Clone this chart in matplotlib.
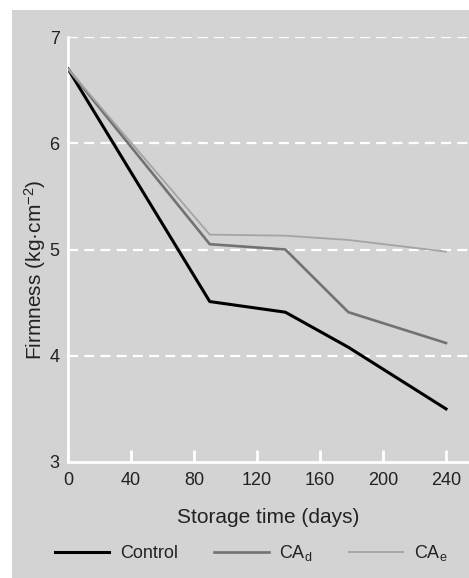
import matplotlib.pyplot as plt
from matplotlib.patches import Rectangle

plt.rcParams['font.family'] = ['Liberation Sans', 'DejaVu Sans']
plt.rcParams['mathtext.fontset'] = 'custom'
plt.rcParams['mathtext.rm'] = 'Liberation Sans'
plt.rcParams['mathtext.it'] = 'Liberation Sans'

# storage days and firmness readings
days = [0, 90, 138, 178, 240]
control = [6.70, 4.51, 4.41, 4.08, 3.50]
ca_d = [6.70, 5.05, 5.00, 4.41, 4.12]
ca_e = [6.70, 5.14, 5.13, 5.09, 4.98]

x_ticks = [0, 40, 80, 120, 160, 200, 240]
y_ticks = [3, 4, 5, 6, 7]

bg = '#d3d3d3'
txt = '#222222'

fig = plt.figure(figsize=(4.69, 5.78), dpi=100)
fig.patch.set_facecolor('white')
# grey panel behind everything
fig.patches.append(Rectangle((12 / 469, 0), 1, 1 - 10 / 578, transform=fig.transFigure,
                             facecolor=bg, edgecolor='none', zorder=-10))

ax = fig.add_axes([68 / 469, 116 / 578, 1 - 68 / 469, (462 - 37) / 578])
ax.set_facecolor(bg)

ax.plot(days, control, color='black', lw=2.2, label='Control', zorder=3)
ax.plot(days, ca_d, color='#727272', lw=1.9, label='CA$_\\mathrm{d}$', zorder=3)
ax.plot(days, ca_e, color='#a4a4a4', lw=1.3, label='CA$_\\mathrm{e}$', zorder=3)

ax.set_xlim(0, 254.6)
ax.set_ylim(3, 7)
ax.set_xticks(x_ticks)
ax.set_yticks(y_ticks)

# white dashed grid lines
for v in y_ticks[1:]:
    ax.axhline(v, color='white', lw=1.6, dashes=(4.5, 2.8), zorder=1)

for s in ['top', 'right']:
    ax.spines[s].set_visible(False)
for s in ['left', 'bottom']:
    ax.spines[s].set_color('white')
    ax.spines[s].set_linewidth(2)

ax.tick_params(axis='x', direction='in', color='white', width=2, length=9,
               labelsize=13, pad=7, labelcolor=txt)
ax.tick_params(axis='y', length=0, labelsize=13, pad=6, labelcolor=txt)

ax.set_xlabel('Storage time (days)', fontsize=15, labelpad=14, color=txt)
ax.set_ylabel('Firmness (kg·cm$^{-2}$)', fontsize=15, color=txt)
ax.yaxis.set_label_coords(-0.082, 0.452)
ax.yaxis.label.set_verticalalignment('center')

fig.legend(loc='center', bbox_to_anchor=(0.536, 0.043), ncol=3, frameon=False,
           fontsize=13, handlelength=3.0, columnspacing=2.0, handletextpad=0.6,
           labelcolor=txt)

fig.savefig('out.png', dpi=100, facecolor=fig.get_facecolor())
